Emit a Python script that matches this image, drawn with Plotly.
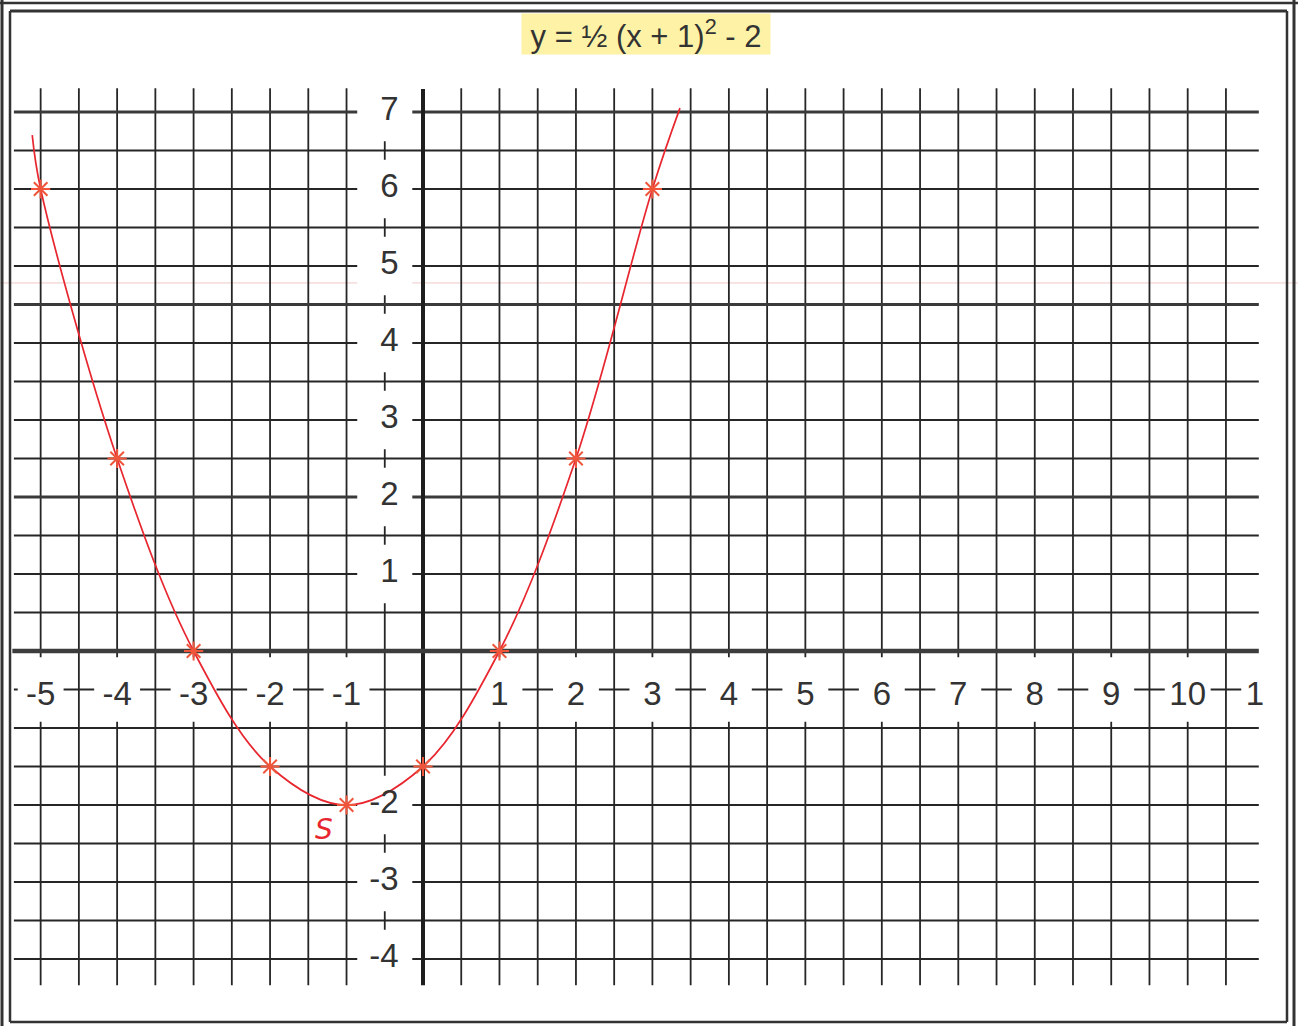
import plotly.graph_objects as go

# points marked on the paper (read from the sheet)
pts_x = [-5, -4, -3, -2, -1, 0, 1, 2, 3]
pts_y = [6, 2.5, 0, -1.5, -2, -1.5, 0, 2.5, 6]

# hand drawn curve: ends of the stroke plus the marked points
curve_x = [-5.11, -5, -4, -3, -2, -1, 0, 1, 2, 3, 3.36]
curve_y = [6.7, 6, 2.5, 0, -1.5, -2, -1.5, 0, 2.5, 6, 7.05]

x_labels = [-5, -4, -3, -2, -1, 1, 2, 3, 4, 5, 6, 7, 8, 9, 10, 11]
x_label_text = ["-5", "-4", "-3", "-2", "-1", "1", "2", "3", "4", "5",
                "6", "7", "8", "9", "10", "1"]   # "11" is cut by the page edge
y_labels = [7, 6, 5, 4, 3, 2, 1, -2, -3, -4]

vert_lines = [v / 2 for v in range(-10, 22)]      # -5 .. 10.5
horiz_lines = [v / 2 for v in range(-8, 15)]      # -4 .. 7
heavy_lines = [7, 4.5, 2]                          # darker copier streaks

W, H = 1298, 1026
X0, SX = 423, 76.47
Y0, SY = 651, 77.0

xr = [-X0 / SX, (W - X0) / SX]
yr = [(Y0 - H) / SY, Y0 / SY]

ink = "#262626"
shapes = []

for xv in vert_lines:
    if xv == 0:
        continue
    shapes.append(dict(type="line", xref="x", yref="y", x0=xv, x1=xv,
                       y0=-4.34, y1=7.31, layer="below",
                       line=dict(color=ink, width=1.8)))
for yv in horiz_lines:
    if yv == 0:
        continue
    heavy = yv in heavy_lines
    shapes.append(dict(type="line", xref="x", yref="y", x0=-5.35, x1=10.93,
                       y0=yv, y1=yv, layer="below",
                       line=dict(color="#3a3a3a" if heavy else ink,
                                 width=3 if heavy else 1.8)))

# faint pink streak from the scanner
shapes.append(dict(type="line", xref="paper", yref="y", x0=0, x1=1,
                   y0=4.78, y1=4.78, layer="below",
                   line=dict(color="#f0c8c8", width=1)))

# main axes
shapes.append(dict(type="line", xref="x", yref="y", x0=0, x1=0,
                   y0=-4.34, y1=7.3, layer="below",
                   line=dict(color="#1e1e1e", width=4)))
shapes.append(dict(type="line", xref="x", yref="y", x0=-5.37, x1=10.93,
                   y0=0, y1=0, layer="below",
                   line=dict(color="#3c3c3c", width=4.5)))

# white gaps in the grid behind the numbers
for k in x_labels:
    shapes.append(dict(type="rect", xref="x", yref="y", x0=k - 0.3, x1=k + 0.3,
                       y0=-0.92, y1=-0.08, layer="below",
                       fillcolor="white", line=dict(width=0)))
for k in y_labels:
    shapes.append(dict(type="rect", xref="x", yref="y", x0=-0.86, x1=-0.14,
                       y0=k - 0.38, y1=k + 0.38, layer="below",
                       fillcolor="white", line=dict(width=0)))

# page frame (double rule)
def px_line(x0, y0, x1, y1, w=2.5, c="#333333"):
    return dict(type="line", xref="paper", yref="paper",
                x0=x0 / W, x1=x1 / W, y0=1 - y0 / H, y1=1 - y1 / H,
                line=dict(color=c, width=w))

shapes += [
    px_line(2, 0, 2, H, 3),
    px_line(0, 3, W, 3, 2.5),
    px_line(W - 4, 0, W - 4, H, 3),
    px_line(10, 11, 10, 1022),
    px_line(10, 11, 1287, 11, 3),
    px_line(1287, 11, 1287, 1022),
    px_line(10, 1022, 1287, 1022),
]

fig = go.Figure()

fig.add_trace(go.Scatter(
    x=curve_x, y=curve_y, mode="lines", line_shape="spline",
    line=dict(color="#e8262f", width=1.7), hoverinfo="skip"))

fig.add_trace(go.Scatter(
    x=pts_x, y=pts_y, mode="markers",
    marker=dict(symbol="asterisk-open", size=16,
                line=dict(color="#a8505a", width=2))))

fig.add_trace(go.Scatter(
    x=x_labels, y=[-0.6] * len(x_labels), mode="text",
    text=x_label_text,
    textposition=["middle center"] * (len(x_labels) - 1) + ["middle left"],
    cliponaxis=False,
    textfont=dict(family="Liberation Sans", size=33, color="#333333")))

fig.add_trace(go.Scatter(
    x=[-0.32] * len(y_labels), y=y_labels, mode="text",
    text=[str(v) for v in y_labels], textposition="middle left",
    cliponaxis=False,
    textfont=dict(family="Liberation Sans", size=33, color="#333333")))

fig.add_annotation(
    x=-1.3, y=-2.32, xref="x", yref="y", text="<i>S</i>", showarrow=False,
    font=dict(family="DejaVu Sans", size=28, color="#e8262f"))

fig.add_annotation(
    x=646 / W, y=1 - 34 / H, xref="paper", yref="paper",
    xanchor="center", yanchor="middle",
    text=" y = ½ (x + 1)<sup>2</sup> - 2 ", showarrow=False,
    bgcolor="#fdf2a6", borderpad=0,
    font=dict(family="Liberation Sans", size=31, color="#333333"))

fig.update_layout(
    width=W, height=H, showlegend=False,
    margin=dict(l=0, r=0, t=0, b=0),
    paper_bgcolor="white", plot_bgcolor="white",
    shapes=shapes,
    xaxis=dict(range=xr, domain=[0, 1], visible=False, fixedrange=True),
    yaxis=dict(range=yr, domain=[0, 1], visible=False, fixedrange=True),
)

fig.write_html("out.html", config={"displayModeBar": False},
               post_script="document.body.style.margin='0px';")
